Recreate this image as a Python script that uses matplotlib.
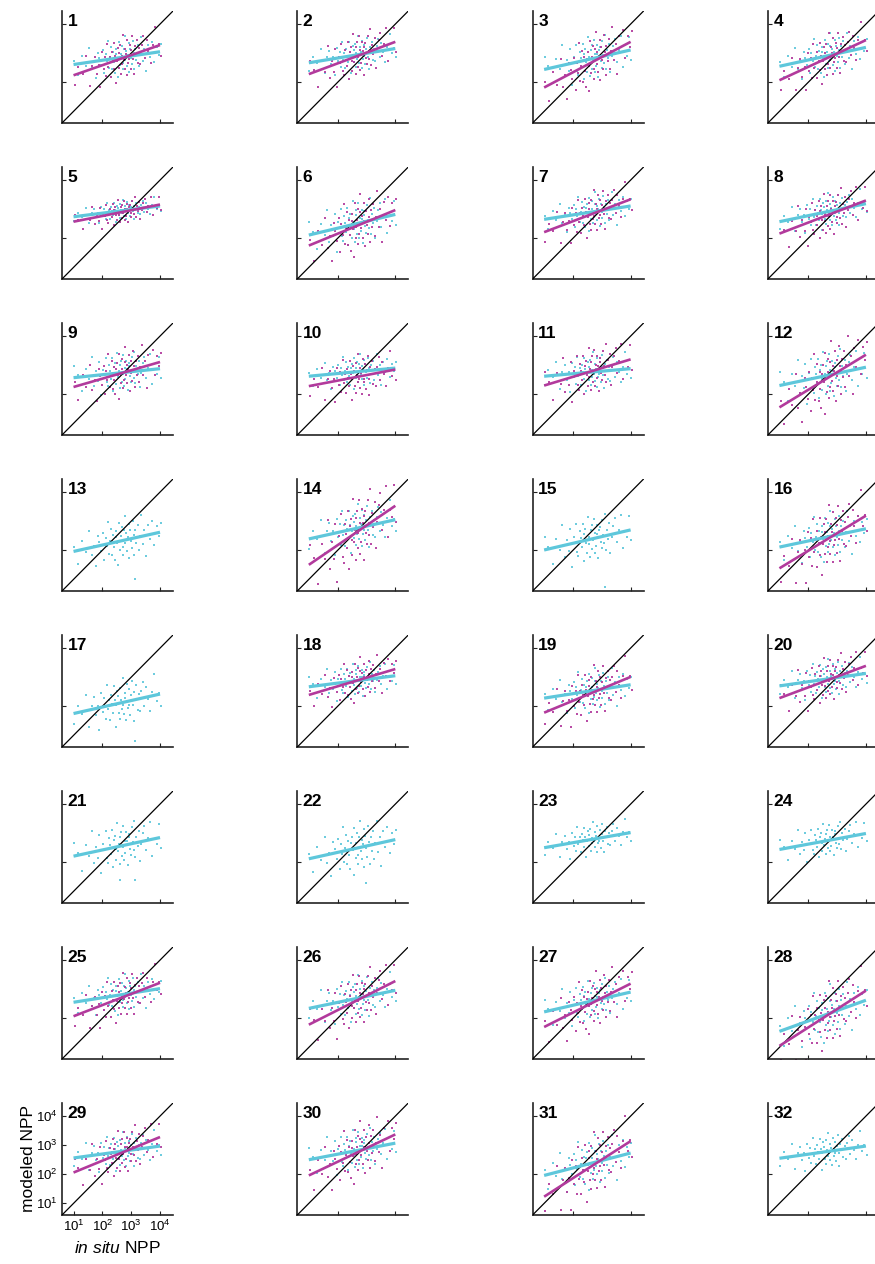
import numpy as np
import matplotlib
matplotlib.use('Agg')
import matplotlib.pyplot as plt
from matplotlib.ticker import LogFormatterMathtext, NullLocator

plt.rcParams['font.family'] = ['Liberation Sans', 'DejaVu Sans']
plt.rcParams['mathtext.fontset'] = 'custom'
plt.rcParams['mathtext.rm'] = 'Liberation Sans'
plt.rcParams['mathtext.it'] = 'Liberation Sans:italic'
plt.rcParams['mathtext.bf'] = 'Liberation Sans:bold'

# log10 in situ NPP of the matchup stations (shared by all panels)
insitu_log = [1.02, 1.15, 1.30, 1.42, 1.55, 1.63, 1.71, 1.78, 1.85, 1.90, 1.96, 2.02,
              2.07, 2.11, 2.15, 2.19, 2.23, 2.27, 2.30, 2.34, 2.37, 2.40, 2.43, 2.46,
              2.49, 2.52, 2.55, 2.57, 2.60, 2.62, 2.65, 2.67, 2.70, 2.72, 2.75, 2.77,
              2.80, 2.83, 2.85, 2.88, 2.91, 2.93, 2.96, 2.99, 3.02, 3.05, 3.08, 3.11,
              3.14, 3.18, 3.22, 3.26, 3.30, 3.35, 3.40, 3.46, 3.52, 3.58, 3.65, 3.72,
              3.80, 3.88, 3.95, 4.02]

# scatter of points about the fit line (in units of the panel spread)
resid_a = [0.4, -1.2, 0.8, -0.3, 1.5, -0.7, 0.1, -1.8, 0.9, 0.3, -0.5, 1.1, -1.4, 0.6,
           -0.2, 2.0, -0.9, 0.2, 1.3, -1.1, 0.7, -0.4, -1.6, 0.5, 1.0, -0.1, -2.1, 1.7,
           0.0, -0.8, 0.4, 1.2, -1.3, -0.6, 0.9, 2.2, -0.3, 0.6, -1.0, 0.2, 1.4, -1.7,
           0.8, -0.2, -0.9, 1.6, 0.3, -1.5, 0.7, -0.5, 1.1, -1.2, 0.1, 1.9, -0.7, 0.5,
           -1.9, 0.9, -0.4, 1.2, -1.0, 0.6, -0.3, 0.8]
resid_b = [-0.9, 0.6, -0.2, 1.4, -1.5, 0.3, 1.0, -0.6, 0.2, -1.9, 1.2, -0.4, 0.7, -1.1,
           1.8, -0.3, 0.5, -1.3, 0.9, 0.1, -0.7, 1.6, 0.4, -2.0, -0.1, 1.1, 0.6, -0.8,
           1.3, -1.4, 0.2, -0.5, 2.1, -0.2, -1.0, 0.8, 0.3, -1.6, 1.5, -0.6, -0.3, 1.0,
           -1.2, 0.5, 1.7, -0.4, -1.8, 0.7, 0.0, 1.2, -0.9, 0.4, -1.1, 0.6, 1.4, -0.7,
           0.9, -0.2, -1.3, 0.3, 1.8, -0.5, 0.1, -1.0]
resid_c = [1.1, 0.2, -1.4, 0.7, -0.3, 1.8, -1.0, 0.4, -0.6, 1.3, -2.0, 0.5, 0.0, 1.6,
           -0.8, -1.2, 0.9, 0.3, -0.5, 1.5, -1.7, 0.6, 1.0, -0.2, -1.1, 2.0, -0.4, 0.2,
           -1.5, 0.8, 1.2, -0.9, -0.1, 1.7, -1.3, 0.4, -0.7, 1.1, 0.3, -1.8, 0.6, 0.9,
           -0.4, -1.0, 1.4, 0.1, -0.6, 1.9, -1.2, 0.5, -0.3, 1.0, -1.6, -0.2, 0.7, 1.3,
           -0.8, 0.2, 1.5, -1.4, 0.0, -0.5, 1.2, -0.9]
resid_sets = [resid_a, resid_b, resid_c]

# fit lines: log10 modeled NPP at in situ 10^1 and 10^4
cyan_fit = [(2.61, 3.05), (2.67, 3.16), (2.44, 3.11), (2.55, 3.20),
            (2.74, 3.11), (2.11, 2.82), (2.65, 3.11), (2.57, 3.19),
            (2.57, 2.88), (2.62, 2.90), (2.62, 2.88), (2.30, 2.93),
            (1.96, 2.62), (2.39, 3.05), (2.01, 2.70), (2.11, 2.74),
            (1.75, 2.42), (2.67, 3.05), (2.28, 2.74), (2.70, 3.13),
            (2.21, 2.85), (2.12, 2.78), (2.50, 3.02), (2.44, 2.99),
            (2.55, 3.02), (2.34, 2.96), (2.22, 2.90), (1.55, 2.62),
            (2.56, 2.97), (2.50, 3.07), (1.96, 2.73), (2.55, 2.97)]
magenta_fit = [(2.24, 3.28), (2.28, 3.39), (1.82, 3.39), (2.07, 3.45),
               (2.57, 3.16), (1.75, 2.97), (2.21, 3.34), (2.16, 3.30),
               (2.25, 3.11), (2.28, 2.85), (2.30, 3.20), (1.55, 3.36),
               None, (1.50, 3.53), None, (1.38, 3.19),
               None, (2.39, 3.28), (1.78, 3.01), (2.28, 3.39),
               None, None, None, None,
               (2.07, 3.22), (1.78, 3.28), (1.70, 3.19), (1.05, 2.95),
               (2.06, 3.28), (1.96, 3.37), (1.23, 3.14), None]

# spread of points about each line (log10 units)
cyan_spread = [0.32, 0.30, 0.38, 0.34, 0.18, 0.40, 0.30, 0.30,
               0.35, 0.28, 0.32, 0.42, 0.38, 0.40, 0.40, 0.40,
               0.40, 0.30, 0.35, 0.32, 0.40, 0.42, 0.28, 0.30,
               0.32, 0.38, 0.36, 0.45, 0.32, 0.36, 0.42, 0.30]
magenta_spread = [0.38, 0.40, 0.45, 0.40, 0.22, 0.48, 0.38, 0.40,
                  0.40, 0.38, 0.42, 0.55, 0, 0.62, 0, 0.55,
                  0, 0.35, 0.45, 0.40, 0, 0, 0, 0,
                  0.40, 0.48, 0.48, 0.55, 0.40, 0.48, 0.55, 0]

# a few stray low points (panel, log10 in situ, log10 modeled)
outliers = [(13, 3.13, 1.00), (15, 3.10, 0.75), (17, 3.13, 0.80),
            (21, 3.13, 1.38), (21, 2.60, 1.40), (22, 3.00, 1.30)]

cyan = '#5EC7DB'
magenta = '#B23A9C'

W, H = 875, 1264
fig = plt.figure(figsize=(W / 100, H / 100), dpi=100)

lo, hi = 10 ** 0.6, 10 ** 4.45
xs = np.array(insitu_log)
dot = 1.3

for p in range(32):
    r, c = divmod(p, 4)
    left = 62 + 235.3 * c
    top = 11 + 156 * r
    ax = fig.add_axes([left / W, 1 - (top + 112) / H, 111 / W, 112 / H])

    c0, c1 = cyan_fit[p]
    yc = c0 + (c1 - c0) * (xs - 1) / 3 + cyan_spread[p] * np.array(resid_sets[p % 3])
    ax.scatter(10 ** xs, 10 ** yc, s=dot, marker='s', color=cyan, linewidths=0,
               alpha=0.9, zorder=2)
    for (q, ox, oy) in outliers:
        if q == p + 1:
            ax.scatter([10 ** ox], [10 ** oy], s=dot, marker='s', color=cyan,
                       linewidths=0, alpha=0.9, zorder=2)

    mfit = magenta_fit[p]
    if mfit is not None:
        m0, m1 = mfit
        ym = m0 + (m1 - m0) * (xs - 1) / 3 + magenta_spread[p] * np.array(resid_sets[(p + 1) % 3])
        ax.scatter(10 ** (xs + 0.02), 10 ** ym, s=dot, marker='s', color=magenta,
                   linewidths=0, alpha=0.9, zorder=2)

    ax.plot([lo, hi], [lo, hi], color='black', lw=0.9, zorder=3)
    ax.plot([10, 1e4], [10 ** c0, 10 ** c1], color=cyan, lw=2.3, zorder=4,
            solid_capstyle='butt')
    if mfit is not None:
        ax.plot([10, 1e4], [10 ** m0, 10 ** m1], color=magenta, lw=1.9, zorder=5,
                solid_capstyle='butt')

    ax.set_xscale('log')
    ax.set_yscale('log')
    ax.set_xlim(lo, hi)
    ax.set_ylim(lo, hi)
    ax.spines['top'].set_visible(False)
    ax.spines['right'].set_visible(False)
    for s in ['left', 'bottom']:
        ax.spines[s].set_linewidth(1.2)
        ax.spines[s].set_color('#222222')
    ax.xaxis.set_minor_locator(NullLocator())
    ax.yaxis.set_minor_locator(NullLocator())
    ax.tick_params(direction='in', length=3, width=0.8, color='#222222')

    if p == 28:
        ax.set_xticks([10, 100, 1000, 10000])
        ax.set_yticks([10, 100, 1000, 10000])
        ax.xaxis.set_major_formatter(LogFormatterMathtext())
        ax.yaxis.set_major_formatter(LogFormatterMathtext())
        ax.tick_params(labelsize=9.5, pad=3)
        ax.set_ylabel('modeled NPP', fontsize=12.5, labelpad=0)
        ax.set_xlabel(r'$\mathit{in\ situ}$ NPP', fontsize=12.5, labelpad=4)
    else:
        ax.set_xticks([100, 10000])
        ax.set_yticks([100, 10000])
        ax.set_xticklabels([])
        ax.set_yticklabels([])

    ax.text(0.05, 0.91, str(p + 1), transform=ax.transAxes, fontsize=12.5,
            fontweight='bold', ha='left', va='center', zorder=6)

fig.savefig('out.png', dpi=100)
